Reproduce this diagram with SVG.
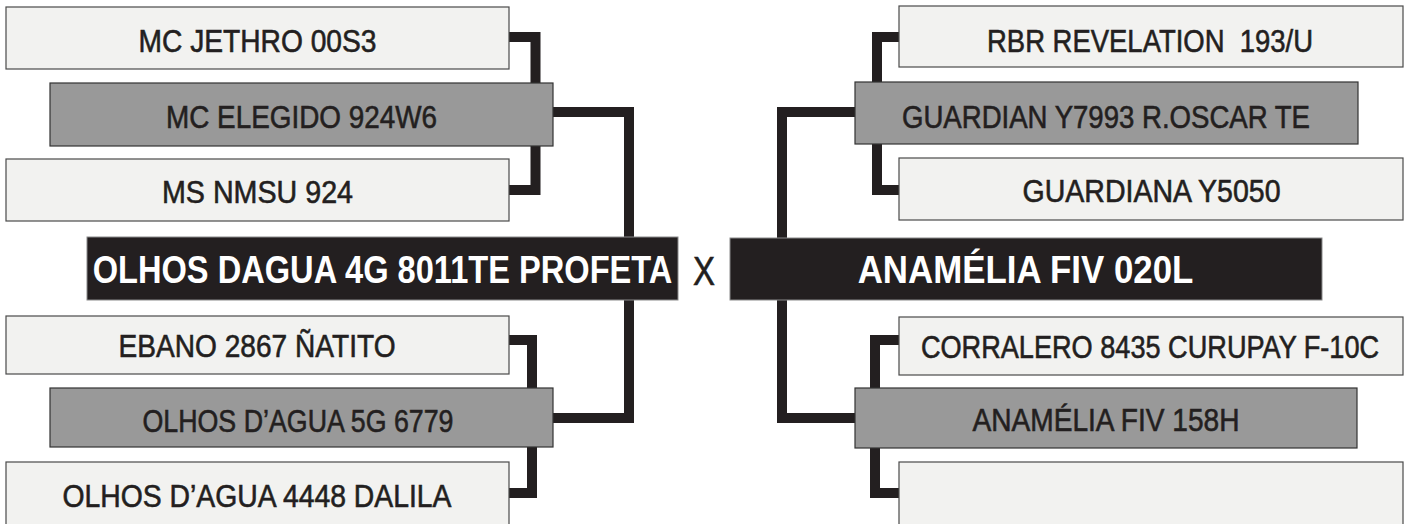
<svg xmlns="http://www.w3.org/2000/svg" width="1409" height="524" viewBox="0 0 1409 524">
<style>
.lt{fill:#f2f2f0;stroke:#4a4a4a;stroke-width:1.2}
.gr{fill:#999999;stroke:#333333;stroke-width:1.2}
.bk{fill:#231f20;stroke:#8a8a8a;stroke-width:1}
.t{font-family:"Liberation Sans",Arial,sans-serif;font-size:32px;fill:#231f20;stroke:#231f20;stroke-width:0.6;text-anchor:middle}
.tb{font-family:"Liberation Sans",Arial,sans-serif;font-size:39px;font-weight:bold;fill:#ffffff;text-anchor:middle}
.con{fill:none;stroke:#231f20;stroke-width:10;stroke-linejoin:miter}
</style>
<rect width="1409" height="524" fill="#ffffff"/>
<g id="connectors">
<path class="con" d="M509,37 H535.5 V190 H509"/>
<path class="con" d="M553,112 H629 V418 H553"/>
<path class="con" d="M509,340 H532 V493 H509"/>
<path class="con" d="M899,37 H877 V190 H899"/>
<path class="con" d="M855,112 H782 V418 H855"/>
<path class="con" d="M899,340 H875 V493 H899"/>
</g>
<g id="n-jethro"><rect class="lt" x="6" y="7" width="503" height="62"/><text class="t" x="257.5" y="52" textLength="238" lengthAdjust="spacingAndGlyphs">MC JETHRO 00S3</text></g>
<g id="n-elegido"><rect class="gr" x="50" y="83" width="503" height="63"/><text class="t" x="301.5" y="128" textLength="271" lengthAdjust="spacingAndGlyphs">MC ELEGIDO 924W6</text></g>
<g id="n-nmsu"><rect class="lt" x="6" y="159" width="503" height="62"/><text class="t" x="257.5" y="203" textLength="191" lengthAdjust="spacingAndGlyphs">MS NMSU 924</text></g>
<g id="n-profeta"><rect class="bk" x="87" y="237" width="591" height="63"/><text class="tb" transform="translate(382.5,283) scale(0.836,1)" x="0" y="0">OLHOS DAGUA 4G 8011TE PROFETA</text></g>
<g id="x-label"><text class="t" x="704" y="285" style="font-size:40px" textLength="22" lengthAdjust="spacingAndGlyphs">X</text></g>
<g id="n-ebano"><rect class="lt" x="6" y="316" width="503" height="58"/><text class="t" x="257" y="357" textLength="277" lengthAdjust="spacingAndGlyphs">EBANO 2867 ÑATITO</text></g>
<g id="n-6779"><rect class="gr" x="50" y="388" width="503" height="59"/><text class="t" x="298" y="432" textLength="311" lengthAdjust="spacingAndGlyphs">OLHOS D’AGUA 5G 6779</text></g>
<g id="n-dalila"><rect class="lt" x="6" y="462" width="503" height="70"/><text class="t" x="257" y="507" textLength="389" lengthAdjust="spacingAndGlyphs">OLHOS D’AGUA 4448 DALILA</text></g>
<g id="n-revelation"><rect class="lt" x="899" y="6" width="504" height="61"/><text class="t" x="1150" y="52" xml:space="preserve" textLength="326" lengthAdjust="spacingAndGlyphs">RBR REVELATION  193/U</text></g>
<g id="n-guardian"><rect class="gr" x="855" y="82" width="503" height="62"/><text class="t" x="1106" y="128" textLength="408" lengthAdjust="spacingAndGlyphs">GUARDIAN Y7993 R.OSCAR TE</text></g>
<g id="n-guardiana"><rect class="lt" x="899" y="158" width="504" height="62"/><text class="t" x="1151.5" y="202" textLength="258" lengthAdjust="spacingAndGlyphs">GUARDIANA Y5050</text></g>
<g id="n-020l"><rect class="bk" x="730" y="238" width="592" height="62"/><text class="tb" transform="translate(1025.5,283) scale(0.894,1)" x="0" y="0">ANAMÉLIA FIV 020L</text></g>
<g id="n-corralero"><rect class="lt" x="899" y="317" width="504" height="58"/><text class="t" transform="translate(1150,358) scale(0.848,1)" x="0" y="0">CORRALERO 8435 CURUPAY F-10C</text></g>
<g id="n-158h"><rect class="gr" x="855" y="388" width="502" height="60"/><text class="t" x="1106" y="431" textLength="267" lengthAdjust="spacingAndGlyphs">ANAMÉLIA FIV 158H</text></g>
<g id="n-empty"><rect class="lt" x="899" y="462" width="504" height="70"/></g>
</svg>
